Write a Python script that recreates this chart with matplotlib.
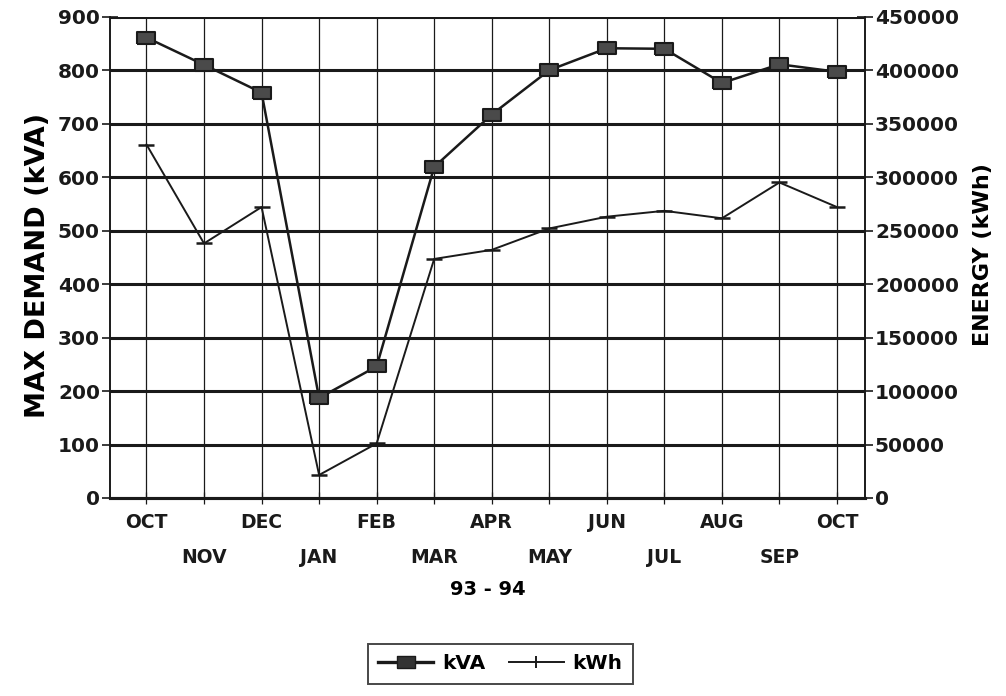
import matplotlib.pyplot as plt
from matplotlib.lines import Line2D

months = ['OCT', 'NOV', 'DEC', 'JAN', 'FEB', 'MAR', 'APR',
          'MAY', 'JUN', 'JUL', 'AUG', 'SEP', 'OCT']
kva = [861, 810, 758, 187, 246, 619, 717, 800, 841, 840, 776, 811, 797]
kwh = [330500, 238000, 272000, 21500, 51000, 223500, 232000,
       252000, 263000, 268500, 261500, 295000, 272000]

plt.rcParams['font.family'] = ['DejaVu Sans']
plt.rcParams['font.weight'] = 'bold'
ink = '#1a1a1a'

# wide, flat box like the plotter's kVA marker
box = [(-1.3, -0.9), (1.3, -0.9), (1.3, 0.9), (-1.3, 0.9), (-1.3, -0.9)]

fig = plt.figure(figsize=(10.06, 6.96), dpi=100)
ax = fig.add_axes([0.109, 0.2845, 0.751, 0.6915])
ax2 = ax.twinx()

x = list(range(len(months)))
ax.plot(x, kva, color=ink, lw=1.8, marker=box, markersize=13,
        markerfacecolor='#4a4a4a', markeredgecolor=ink, markeredgewidth=1.5,
        zorder=5)
ax2.plot(x, kwh, color=ink, lw=1.4, marker='_', markersize=12,
         markeredgewidth=1.8, zorder=5)

ax.set_xlim(-0.64, 12.49)
ax.set_ylim(0, 900)
ax2.set_ylim(0, 450000)
ax.set_yticks(range(0, 901, 100))
ax2.set_yticks(range(0, 450001, 50000))

for v in range(100, 901, 100):
    ax.axhline(v, color=ink, lw=2.2, zorder=1)
for i in x:
    ax.axvline(i, color=ink, lw=0.9, zorder=1)

labels = [m if i % 2 == 0 else '\n' + m for i, m in enumerate(months)]
ax.set_xticks(x)
ax.set_xticklabels(labels, fontsize=13.5, fontweight='bold', linespacing=2.05)
ax.set_xlabel('93 - 94', fontsize=14, fontweight='bold', labelpad=9)

ax.tick_params(axis='y', direction='inout', length=12, width=1.2,
               labelsize=14.5, pad=1, colors=ink)
ax2.tick_params(axis='y', direction='inout', length=12, width=1.2,
                labelsize=14.5, pad=1, colors=ink)
ax.tick_params(axis='x', direction='inout', length=8, width=0.9,
               pad=7, colors=ink)

ax.set_ylabel('MAX DEMAND (kVA)', fontsize=19.5, fontweight='bold')
ax.yaxis.set_label_coords(-0.077, 0.484)
ax2.set_ylabel('ENERGY (kWh)', fontsize=16, fontweight='bold')
ax2.yaxis.set_label_coords(1.143, 0.505)

for a in (ax, ax2):
    a.spines['left'].set_linewidth(1.2)
    a.spines['right'].set_linewidth(1.2)
    a.spines['bottom'].set_linewidth(2.2)
    a.spines['top'].set_visible(False)
    for s in a.spines.values():
        s.set_color(ink)

handles = [Line2D([], [], color=ink, lw=2.4, marker=box, markersize=13,
                  markerfacecolor='#333333'),
           Line2D([], [], color=ink, lw=1.4, marker='|', markersize=8,
                  markeredgewidth=1.4)]
leg = fig.legend(handles, ['kVA', 'kWh'], loc='center',
                 bbox_to_anchor=(0.4975, 0.046), ncol=2, frameon=True,
                 fancybox=False, edgecolor=ink, handlelength=2.7,
                 handletextpad=0.45, columnspacing=1.2, borderpad=0.5,
                 prop={'weight': 'bold', 'size': 14.5})
leg.get_frame().set_linewidth(1.4)

fig.savefig('out.png', dpi=100)
